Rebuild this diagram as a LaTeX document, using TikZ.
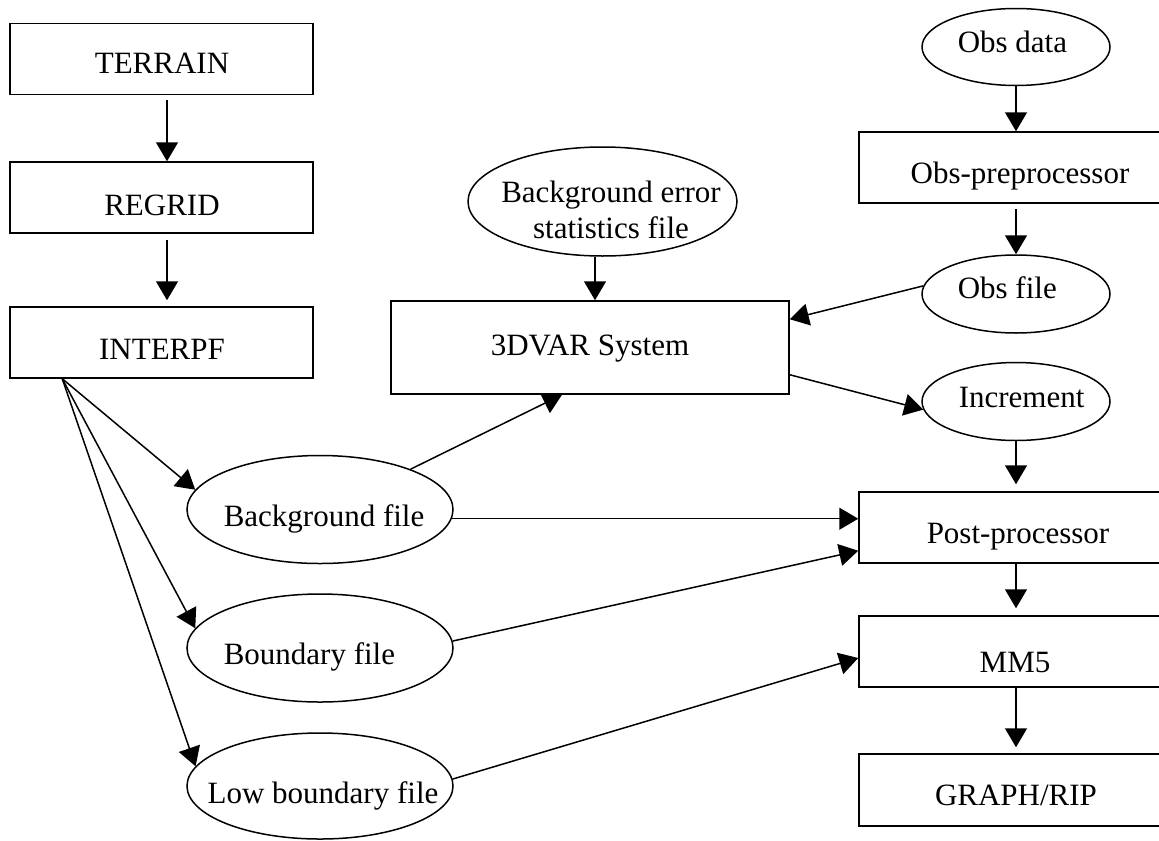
\documentclass[tikz,border=0pt]{standalone}
\usepackage{fontspec}
\setmainfont{Liberation Serif}
\usetikzlibrary{shapes.geometric,arrows.meta,calc}
\begin{document}
\begin{tikzpicture}[x=0.5pt,y=-0.5pt,
  line width=0.75pt,
  lbl/.style={font=\fontsize{15.5}{18}\selectfont, inner sep=0pt, anchor=base},
  boxL/.style={draw, rectangle, inner sep=0pt, minimum width=151.5pt, minimum height=35.5pt},
  boxR/.style={draw, rectangle, inner sep=0pt, minimum width=157pt, minimum height=35.5pt},
  ell/.style={draw, ellipse, inner sep=0pt},
  arr/.style={-{Triangle[length=9.5pt,width=11pt]}}]

\useasboundingbox (0,0) rectangle (1159,840);
\clip (0,0) rectangle (1159,840);

% boxes
\node[boxL] (terrain) at (161.5,59) {};
\node[boxL] (regrid) at (161.5,197.5) {};
\node[boxL] (interpf) at (161.5,342.5) {};
\node[draw, rectangle, inner sep=0pt, minimum width=199pt, minimum height=46.5pt] (dv) at (590,347.5) {};
\node[boxR] (obspre) at (1016,167.5) {};
\node[boxR] (pp) at (1016,527.5) {};
\node[boxR] (mm) at (1016,651.5) {};
\node[boxR, minimum height=36pt] (gr) at (1016,790) {};

% ellipses
\node[ell,minimum width=134.5pt,minimum height=54.5pt] (bgerr) at (602.5,201.5) {};
\node[ell,minimum width=94pt,minimum height=38.5pt] (obsdata) at (1016,47) {};
\node[ell,minimum width=94pt,minimum height=39pt] (obsfile) at (1016,294) {};
\node[ell,minimum width=94pt,minimum height=39pt] (inc) at (1016,401.5) {};
\node[ell,minimum width=133pt,minimum height=54pt] (bg) at (320,509.5) {};
\node[ell,minimum width=133pt,minimum height=54pt] (bd) at (320,648) {};
\node[ell,minimum width=133pt,minimum height=53pt] (lb) at (320,786) {};

% texts
\node[lbl] (tterrain) at (162,74) {TERRAIN};
\node[lbl] (tregrid) at (162,215) {REGRID};
\node[lbl] (tinterpf) at (162,359) {INTERPF};
\node[lbl] (tdv) at (590,355) {3DVAR System};
\node[lbl] (tbe1) at (611,202) {Background error};
\node[lbl] (tbe2) at (611,238) {statistics file};
\node[lbl,anchor=base west] (tod) at (957,53) {Obs data};
\node[lbl] (top) at (1020,183) {Obs-preprocessor};
\node[lbl,anchor=base west] (tof) at (957,298) {Obs file};
\node[lbl,anchor=base west] (tinc) at (958,407) {Increment};
\node[lbl] (tpp) at (1018,543) {Post-processor};
\node[lbl] (tmm) at (1015,672) {MM5};
\node[lbl] (tgr) at (1016,805) {GRAPH/RIP};
\node[lbl,anchor=base west] (tbg) at (223,526) {Background file};
\node[lbl,anchor=base west] (tbd) at (223,664) {Boundary file};
\node[lbl] (tlb) at (323,803) {Low boundary file};

% vertical arrows
\draw[arr] ([xshift=2.75pt,yshift=-2.5pt]terrain.south) -- ([xshift=2.75pt]regrid.north);
\draw[arr] ([xshift=2.75pt,yshift=-3pt]regrid.south) -- ([xshift=2.75pt,yshift=3pt]interpf.north);
\draw[arr] ([xshift=-3.75pt]bgerr.south) -- ([xshift=-3.75pt]bgerr.south |- dv.north);
\draw[arr] (obsdata.south) -- (obspre.north);
\draw[arr] ([yshift=-2.5pt]obspre.south) -- (obsfile.north);
\draw[arr] (inc.south) -- ([yshift=3.5pt]pp.north);
\draw[arr] (pp.south) -- ([yshift=3.5pt]mm.north);
\draw[arr] (mm.south) -- ([yshift=3pt]gr.north);

% slanted arrows
\coordinate (ifs) at ($(interpf.south west)+(53,0)$);
\draw[arr] (ifs) -- (bg.171);
\draw[arr] (ifs) -- (bd.171);
\draw[arr] (ifs) -- (lb.171);
\draw[arr] (bg.24) -- ($(dv.south)+(-28,0)$);
\draw[arr] (bg.-4) -- (bg.-4 -| pp.west);
\draw[arr] (bd.3.5) -- ($(pp.south west)+(0,-13)$);
\draw[arr] (lb.3) -- ($(mm.west)+(0,6.5)$);
\draw[arr] (obsfile.175) -- ($(dv.north east)+(0,19)$);
\draw[arr] ($(dv.south east)+(0,-20)$) -- (inc.185);
\end{tikzpicture}
\end{document}
